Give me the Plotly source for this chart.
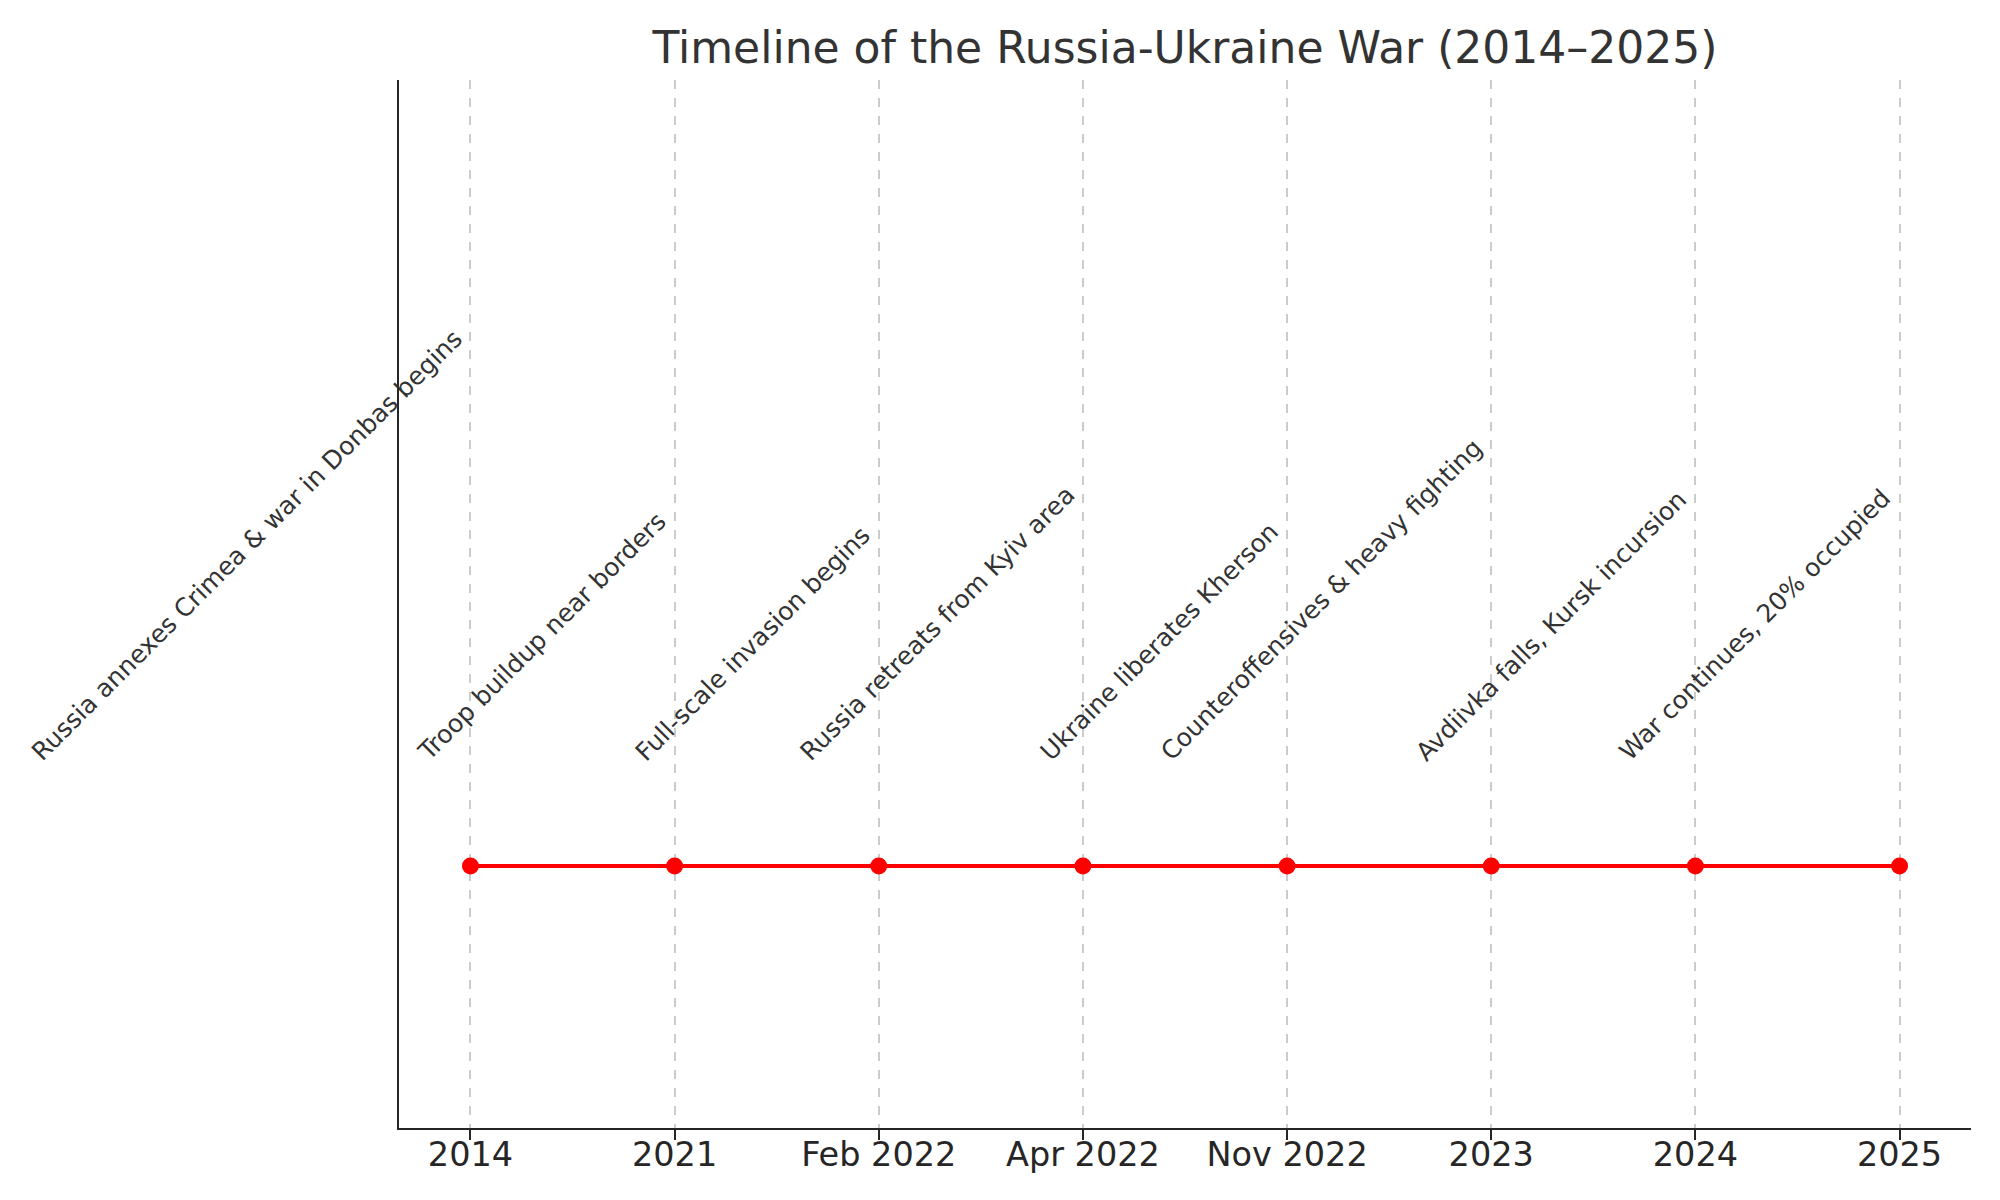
import plotly.graph_objects as go

# Timeline data
dates = ["2014", "2021", "Feb 2022", "Apr 2022", "Nov 2022", "2023", "2024", "2025"]
events = [
    "Russia annexes Crimea & war in Donbas begins",
    "Troop buildup near borders",
    "Full-scale invasion begins",
    "Russia retreats from Kyiv area",
    "Ukraine liberates Kherson",
    "Counteroffensives & heavy fighting",
    "Avdiivka falls, Kursk incursion",
    "War continues, 20% occupied",
]
levels = [0, 0, 0, 0, 0, 0, 0, 0]

FONT = "DejaVu Sans"
positions = list(range(len(dates)))

fig = go.Figure()

fig.add_trace(
    go.Scatter(
        x=positions,
        y=levels,
        mode="lines+markers",
        line=dict(color="#ff0000", width=4),
        marker=dict(color="#ff0000", size=17),
        showlegend=False,
        hoverinfo="skip",
    )
)

# Rotated event labels, right/bottom anchored just above the line
for pos, lvl, txt in zip(positions, levels, events):
    fig.add_annotation(
        x=pos,
        y=lvl + 0.2,
        yshift=-8,
        xref="x",
        yref="y",
        text=txt,
        showarrow=False,
        textangle=-45,
        xanchor="right",
        yanchor="bottom",
        font=dict(family=FONT, size=25, color="#333333"),
    )

fig.update_xaxes(
    range=[-0.35, len(dates) - 1 + 0.35],
    tickmode="array",
    tickvals=positions,
    ticktext=dates,
    tickfont=dict(family=FONT, size=33.5, color="#262626"),
    ticklabelstandoff=-14,
    showline=True,
    linecolor="#262626",
    linewidth=2,
    ticks="outside",
    ticklen=10,
    tickwidth=2,
    tickcolor="#262626",
    showgrid=True,
    gridcolor="#cccccc",
    gridwidth=1.5,
    griddash="dash",
    zeroline=False,
)

fig.update_yaxes(
    range=[-0.5, 1.5],
    showline=True,
    linecolor="#262626",
    linewidth=2,
    showticklabels=False,
    ticks="",
    showgrid=False,
    zeroline=False,
)

# page adds an 8px body margin, so the figure is drawn 8px smaller
fig.update_layout(
    width=1992,
    height=1192,
    margin=dict(l=391, r=29, t=72, b=72),
    paper_bgcolor="white",
    plot_bgcolor="white",
    title=dict(
        text="Timeline of the Russia-Ukraine War (2014–2025)",
        x=(391 + 1963) / 2 / 1992,
        xanchor="center",
        y=1 - 40 / 1192,
        yanchor="middle",
        font=dict(family=FONT, size=44, color="#333333"),
    ),
)

fig.write_html("out.html")
